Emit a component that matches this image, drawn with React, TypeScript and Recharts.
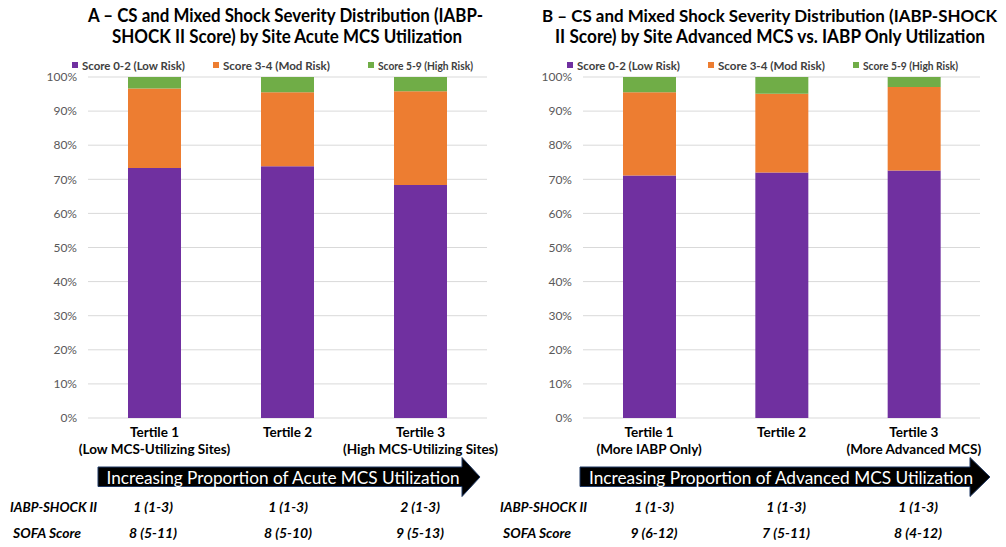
import React from 'react'
import { BarChart, Bar, XAxis, YAxis, CartesianGrid } from 'recharts'

const tertiles = ['Tertile 1', 'Tertile 2', 'Tertile 3']
const subA = ['(Low MCS-Utilizing Sites)', '', '(High MCS-Utilizing Sites)']
const subB = ['(More IABP Only)', '', '(More Advanced MCS)']

const lowA = [73.3, 73.8, 68.3]
const modA = [23.3, 21.7, 27.5]
const highA = [3.4, 4.5, 4.2]

const lowB = [71.1, 72.0, 72.6]
const modB = [24.4, 23.1, 24.5]
const highB = [4.5, 4.9, 2.9]

const shockA = ['1 (1-3)', '1 (1-3)', '2 (1-3)']
const sofaA = ['8 (5-11)', '8 (5-10)', '9 (5-13)']
const shockB = ['1 (1-3)', '1 (1-3)', '1 (1-3)']
const sofaB = ['9 (6-12)', '7 (5-11)', '8 (4-12)']

const yTicks = [0, 10, 20, 30, 40, 50, 60, 70, 80, 90, 100]

const seriesNames = ['Score 0-2 (Low Risk)', 'Score 3-4 (Mod Risk)', 'Score 5-9 (High Risk)']
const colors = ['#7030A0', '#ED7D31', '#70AD47']

const FONT = 'Lato, "Open Sans", sans-serif'

function buildRows(low: number[], mod: number[], high: number[]) {
  return tertiles.map((t, i) => ({ name: t, low: low[i], mod: mod[i], high: high[i] }))
}

function TertileTick(props: any) {
  const { x, y, payload, subs } = props
  const idx = tertiles.indexOf(payload.value)
  return (
    <g>
      <text x={x} y={y + 18.5} textAnchor="middle" fontFamily={FONT} fontWeight={700} fontSize={13.5} fill="#000">
        {payload.value}
      </text>
      <text x={x} y={y + 36} textAnchor="middle" fontFamily={FONT} fontWeight={700} fontSize={13.5} fill="#000">
        {subs[idx]}
      </text>
    </g>
  )
}

interface PanelProps {
  left: number
  yAxisWidth: number
  rightMargin: number
  low: number[]
  mod: number[]
  high: number[]
  subs: string[]
}

function Panel({ left, yAxisWidth, rightMargin, low, mod, high, subs }: PanelProps) {
  const data = buildRows(low, mod, high)
  return (
    <div style={{ position: 'absolute', left, top: 0 }}>
      <BarChart width={500} height={547} data={data} margin={{ top: 77, right: rightMargin, left: 0, bottom: 79 }}>
        <CartesianGrid vertical={false} stroke="#D9D9D9" />
        <XAxis
          dataKey="name"
          axisLine={false}
          tickLine={false}
          tickSize={0}
          tickMargin={0}
          height={50}
          interval={0}
          tick={<TertileTick subs={subs} />}
        />
        <YAxis
          width={yAxisWidth}
          domain={[0, 100]}
          ticks={yTicks}
          tickFormatter={(v: number) => `${v}%`}
          axisLine={false}
          tickLine={false}
          tickSize={0}
          tickMargin={11}
          tick={{ fill: '#595959', fontSize: 12, fontFamily: FONT }}
        />
        <Bar dataKey="low" stackId="a" fill={colors[0]} barSize={53} isAnimationActive={false} />
        <Bar dataKey="mod" stackId="a" fill={colors[1]} barSize={53} isAnimationActive={false} />
        <Bar dataKey="high" stackId="a" fill={colors[2]} barSize={53} isAnimationActive={false} />
      </BarChart>
    </div>
  )
}

function Arrow({ x0, x1, tip, text, textX, textLen }: { x0: number; x1: number; tip: number; text: string; textX: number; textLen: number }) {
  const pts = `${x0},467 ${x1},467 ${x1},457.5 ${tip},477 ${x1},496.5 ${x1},486.5 ${x0},486.5`
  return (
    <g>
      <polygon points={pts} fill="#000" stroke="#1F3864" strokeWidth={1} />
      <text x={textX} y={483.5} textAnchor="middle" fill="#fff" fontFamily={FONT} fontSize={18}
        textLength={textLen} lengthAdjust="spacingAndGlyphs">
        {text}
      </text>
    </g>
  )
}

function Legend({ squares, texts }: { squares: number[]; texts: number[] }) {
  const lens = [103, 107, 95]
  return (
    <g>
      {seriesNames.map((n, i) => (
        <g key={n}>
          <rect x={squares[i]} y={62} width={6} height={6} fill={colors[i]} />
          <text x={texts[i]} y={69.5} fontFamily={FONT} fontWeight={700} fontSize={12} fill="#404040"
            textLength={lens[i]} lengthAdjust="spacingAndGlyphs">
            {n}
          </text>
        </g>
      ))}
    </g>
  )
}

function TableRows({ centers, shock, sofa, labelX }: { centers: number[]; shock: string[]; sofa: string[]; labelX: number }) {
  const style = { fontFamily: FONT, fontWeight: 700, fontStyle: 'italic', fontSize: 14, fill: '#000' } as any
  return (
    <g>
      <text x={labelX} y={512} {...style} textLength={87} lengthAdjust="spacingAndGlyphs">IABP-SHOCK II</text>
      <text x={labelX + 3} y={538} {...style} textLength={68} lengthAdjust="spacingAndGlyphs">SOFA Score</text>
      {centers.map((c, i) => (
        <g key={i}>
          <text x={c} y={512} textAnchor="middle" {...style}>{shock[i]}</text>
          <text x={c} y={538} textAnchor="middle" {...style}>{sofa[i]}</text>
        </g>
      ))}
    </g>
  )
}

export default function App() {
  const titleStyle = { fontFamily: FONT, fontWeight: 700, fontSize: 18, fill: '#000' } as any
  return (
    <div style={{ position: 'absolute', left: 0, top: 0, width: 1006, height: 547, background: '#fff', overflow: 'hidden' }}>
      <Panel left={0} yAxisWidth={88} rightMargin={13} low={lowA} mod={modA} high={highA} subs={subA} />
      <Panel left={500} yAxisWidth={83} rightMargin={20} low={lowB} mod={modB} high={highB} subs={subB} />
      <svg width={1006} height={547} style={{ position: 'absolute', left: 0, top: 0, pointerEvents: 'none' }}>
        <text x={285.5} y={22} textAnchor="middle" {...titleStyle} textLength={395} lengthAdjust="spacingAndGlyphs">
          A – CS and Mixed Shock Severity Distribution (IABP-
        </text>
        <text x={287} y={43} textAnchor="middle" {...titleStyle} textLength={350} lengthAdjust="spacingAndGlyphs">
          SHOCK II Score) by Site Acute MCS Utilization
        </text>
        <text x={769.5} y={22} textAnchor="middle" {...titleStyle} fontSize={17} textLength={455} lengthAdjust="spacingAndGlyphs">
          B – CS and Mixed Shock Severity Distribution (IABP-SHOCK
        </text>
        <text x={770} y={43} textAnchor="middle" {...titleStyle} textLength={430} lengthAdjust="spacingAndGlyphs">
          II Score) by Site Advanced MCS vs. IABP Only Utilization
        </text>
        <Legend squares={[72, 213, 368]} texts={[82, 223, 378]} />
        <Legend squares={[567, 708, 853]} texts={[577, 718, 863]} />
        <Arrow x0={98} x1={462} tip={480} text="Increasing Proportion of Acute MCS Utilization" textX={283} textLen={353} />
        <Arrow x0={580} x1={970} tip={990} text="Increasing Proportion of Advanced MCS Utilization" textX={781} textLen={384} />
        <TableRows centers={[153, 288, 420]} shock={shockA} sofa={sofaA} labelX={10} />
        <TableRows centers={[654, 786, 918]} shock={shockB} sofa={sofaB} labelX={500} />
      </svg>
    </div>
  )
}
